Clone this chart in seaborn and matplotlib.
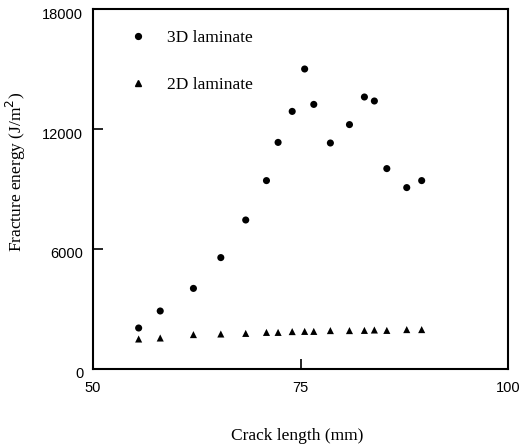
import matplotlib
matplotlib.use("Agg")
import matplotlib.pyplot as plt
import matplotlib.transforms as mtransforms
from matplotlib.lines import Line2D
import seaborn as sns
import pandas as pd

# Crack length (mm) for each measurement
crack_length = [55.5, 58.1, 62.1, 65.4, 68.4, 70.9, 72.3, 74.0, 75.5,
                76.6, 78.6, 80.9, 82.7, 83.9, 85.4, 87.8, 89.6]
# Fracture energy (J/m^2)
energy_3d = [2050, 2900, 4030, 5570, 7450, 9420, 11330, 12880, 15000,
             13230, 11300, 12220, 13600, 13400, 10020, 9070, 9420]
energy_2d = [1500, 1550, 1720, 1750, 1780, 1830, 1830, 1870, 1880,
             1880, 1920, 1920, 1930, 1950, 1930, 1970, 1970]
series_names = ["3D laminate", "2D laminate"]
x_ticks = [50, 75, 100]
y_ticks = [0, 6000, 12000, 18000]

df = pd.concat([
    pd.DataFrame({"crack": crack_length, "energy": energy_3d, "laminate": series_names[0]}),
    pd.DataFrame({"crack": crack_length, "energy": energy_2d, "laminate": series_names[1]}),
])

sns.set_theme(style="ticks")
plt.rcParams.update({"text.color": "black", "axes.labelcolor": "black",
                     "xtick.color": "black", "ytick.color": "black"})
serif = ["Liberation Serif", "DejaVu Serif"]
sans = ["Liberation Sans", "DejaVu Sans"]

fig = plt.figure(figsize=(5.25, 4.47), dpi=100)
ax = fig.add_axes([93 / 525, 1 - 369 / 447, 415 / 525, 360 / 447])

sns.scatterplot(data=df, x="crack", y="energy", style="laminate",
                markers={series_names[0]: "o", series_names[1]: "^"},
                color="black", s=26, linewidth=0, legend=False, ax=ax)

ax.set_xlim(50, 100)
ax.set_ylim(0, 18000)
ax.set_xticks(x_ticks)
ax.set_yticks(y_ticks)
ax.set_xticklabels([str(v) for v in x_ticks], family=sans, fontsize=10.5, color="black")
ax.set_yticklabels([str(v) for v in y_ticks], family=sans, fontsize=10.5, color="black")
ax.tick_params(axis="both", direction="in", length=7, width=1.2, color="black")
ax.tick_params(axis="x", pad=9)
ax.tick_params(axis="y", pad=7)
# nudge y tick labels slightly downward
offset = mtransforms.ScaledTranslation(0, -4 / 100, fig.dpi_scale_trans)
for lbl in ax.get_yticklabels():
    lbl.set_transform(lbl.get_transform() + offset)

for sp in ax.spines.values():
    sp.set_linewidth(1.5)
    sp.set_color("black")

ax.set_xlabel("Crack length (mm)", family=serif, fontsize=12.5, color="black")
ax.xaxis.set_label_coords((297 - 93) / 415, (369 - 436) / 360)
ax.xaxis.label.set_va("center")
ax.set_ylabel("Fracture energy (J/m$^2$)", family=serif, fontsize=12.5, color="black")
ax.yaxis.set_label_coords((16 - 93) / 415, (369 - 172) / 360)
ax.yaxis.label.set_va("center")

handles = [
    Line2D([], [], linestyle="none", marker="o", color="black", markersize=4.2),
    Line2D([], [], linestyle="none", marker="^", color="black", markersize=4.2),
]
leg = ax.legend(handles, series_names, loc="upper left", frameon=False,
                bbox_to_anchor=(0.029, 0.985), labelspacing=1.75, handletextpad=0.65,
                prop={"family": serif, "size": 12.5})
for t in leg.get_texts():
    t.set_color("black")

fig.savefig("out.png", dpi=100)
